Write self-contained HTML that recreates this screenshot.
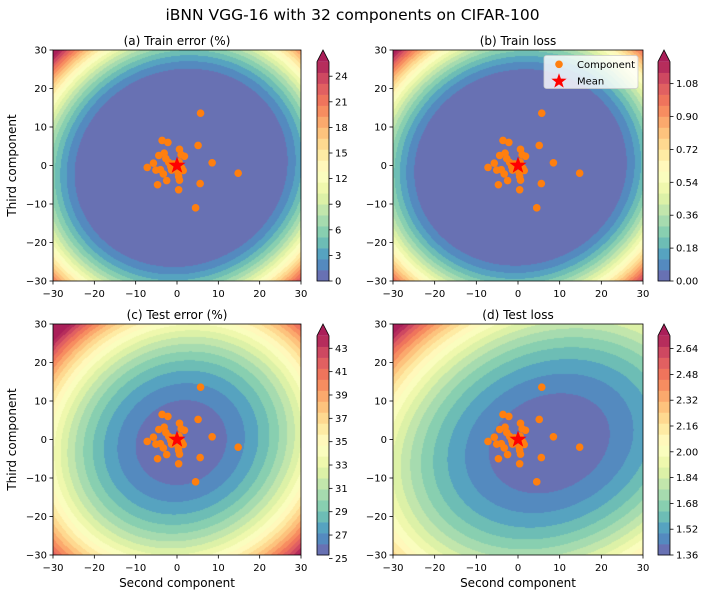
<!DOCTYPE html>
<html><head><meta charset="utf-8">
<style>
html,body{margin:0;padding:0;background:#fff;}
#wrap{position:relative;width:705px;height:596px;overflow:hidden;font-family:"DejaVu Sans","Liberation Sans",sans-serif;}
canvas{position:absolute;}
svg{position:absolute;left:0;top:0;}
</style></head>
<body>
<div id="wrap">
<canvas id="cA" style="left:53px;top:50px" width="248" height="231"></canvas>
<canvas id="cB" style="left:393px;top:50px" width="250" height="231"></canvas>
<canvas id="cC" style="left:53px;top:324px" width="248" height="231"></canvas>
<canvas id="cD" style="left:393px;top:324px" width="250" height="231"></canvas>
<svg id="svg" width="705" height="596"></svg>
</div>
<script>
// ---- data ----
const compX = [5.7,-3.6,-2.2,5.1,0.6,-3.1,-4.4,1.0,1.8,-2.7,-2.0,-5.7,8.5,-7.2,-5.1,-4.0,-3.3,-1.3,1.5,0.4,0.6,-2.5,14.8,5.6,-4.7,0.4,4.5,-0.8,0.5,-1.5,1.2,0.3];
const compY = [13.6,6.5,6.0,5.2,4.2,3.2,2.6,2.8,2.4,1.8,0.8,0.6,0.7,-0.5,-1.2,-1.1,-2.2,-1.2,-1.3,-2.9,-3.8,-3.9,-2.0,-4.7,-5.0,-6.3,-11.0,0.4,0.9,-0.3,-0.7,-2.0];
const meanX = [0];
const meanY = [0];
const axisTicks = [-30,-20,-10,0,10,20,30];
// colorbar ranges [vmin, vmax, nBands]
const rangeA = [0, 25.7, 20];
const rangeB = [0, 1.2, 20];
const rangeC = [25.29, 44.08, 20];
const rangeD = [1.36, 2.72, 20];
const cbTicksA = [0,3,6,9,12,15,18,21,24];
const cbTicksB = [0,0.18,0.36,0.54,0.72,0.90,1.08];
const cbTicksC = [25,27,29,31,33,35,37,39,41,43];
const cbTicksD = [1.36,1.52,1.68,1.84,2.00,2.16,2.32,2.48,2.64];
const cbLabelsB = ["0.00","0.18","0.36","0.54","0.72","0.90","1.08"];
const cbLabelsD = ["1.36","1.52","1.68","1.84","2.00","2.16","2.32","2.48","2.64"];
// landscape params: [cx, cy, thetaDeg, Sa, base, a1, u0, p1, a2, p2]
const fieldA = [1, -0.6, 45, 1.07, 0, 47, 0.7, 1.76, 0, 1];
const fieldB = [0.6, -0.5, 45, 1.05, 0, 2.2, 0.7, 1.76, 0, 1];
const fieldC = [1, -0.8, 45, 1.1, 25.29, 7.5, 0, 2, 1.5, 4];
const fieldD = [7.5, -1, 30, 1.25, 1.36, 0.4, 0, 2, 0.08, 4];

// ---- helpers ----
const NS = "http://www.w3.org/2000/svg";
const svg = document.getElementById('svg');
function mk(tag, attrs, parent){
  const e = document.createElementNS(NS, tag);
  for (const k in attrs) e.setAttribute(k, attrs[k]);
  (parent||svg).appendChild(e);
  return e;
}
const spec = [[94,79,162],[50,136,189],[102,194,165],[171,221,164],[230,245,152],[255,255,191],[254,224,139],[253,174,97],[244,109,67],[213,62,79],[158,1,66]];
const ALPHA = 0.88;
function cmap(t){
  t = Math.max(0, Math.min(1, t));
  const s = t*10, i = Math.min(9, Math.floor(s)), f = s - i;
  const c = [0,1,2].map(k => spec[i][k]*(1-f) + spec[i+1][k]*f);
  return c.map(v => Math.round(v*ALPHA + 255*(1-ALPHA)));
}
function rgb(c){ return 'rgb('+c[0]+','+c[1]+','+c[2]+')'; }
function fval(p, x, y){
  const dx = x - p[0], dy = y - p[1], th = p[2]*Math.PI/180;
  const a = dx*Math.cos(th) + dy*Math.sin(th), b = -dx*Math.sin(th) + dy*Math.cos(th);
  const u = Math.sqrt((a/p[3])*(a/p[3]) + b*b)/30;
  return p[4] + p[5]*Math.pow(Math.max(0, u - p[6]), p[7]) + p[8]*Math.pow(u, p[9]);
}

function panel(cfg){
  const {L, T, W, H, canvasId, field, range, cbTicks, cbLabels, title, name, cbX, showYLabel, showXLabel, legend} = cfg;
  const sx = x => L + (x + 30)/60*W;
  const sy = y => T + (30 - y)/60*H;
  const cv = document.getElementById(canvasId);
  cv.width = W; cv.height = H;
  const ctx = cv.getContext('2d');
  const img = ctx.createImageData(W, H);
  const [vmin, vmax, nb] = range;
  const step = (vmax - vmin)/nb;
  const bandCols = [];
  for (let i=0;i<nb;i++) bandCols.push(cmap((i+0.5)/nb));
  const overCol = cmap(1);
  for (let j=0;j<H;j++) for (let i=0;i<W;i++){
    const x = -30 + (i+0.5)/W*60, y = 30 - (j+0.5)/H*60;
    const v = fval(field, x, y);
    let k = Math.floor((v - vmin)/step);
    const c = k >= nb ? overCol : bandCols[Math.max(0,k)];
    const o = (j*W+i)*4;
    img.data[o]=c[0]; img.data[o+1]=c[1]; img.data[o+2]=c[2]; img.data[o+3]=255;
  }
  ctx.putImageData(img, 0, 0);

  const g = mk('g', {});
  
  
  const frame = mk('rect', {x:L, y:T, width:W, height:H, fill:'none', stroke:'#000', 'stroke-width':0.8}, g);
  
  
  axisTicks.forEach(t => {
    const X = sx(t);
    mk('line', {x1:X, x2:X, y1:T+H, y2:T+H+3.5, stroke:'#000', 'stroke-width':0.8}, g);
    const tx = mk('text', {x:X, y:T+H+16, 'font-size':10, 'text-anchor':'middle', fill:'#000'}, g);
    tx.textContent = t < 0 ? '\u2212' + Math.abs(t) : String(t);
    
    
    const Y = sy(t);
    mk('line', {x1:L-3.5, x2:L, y1:Y, y2:Y, stroke:'#000', 'stroke-width':0.8}, g);
    const ty = mk('text', {x:L-6, y:Y+3.5, 'font-size':10, 'text-anchor':'end', fill:'#000'}, g);
    ty.textContent = t < 0 ? '\u2212' + Math.abs(t) : String(t);
    
    
  });
  const tt = mk('text', {x:L+W/2, y:T-5, 'font-size':12, 'text-anchor':'middle', fill:'#000'}, g);
  tt.textContent = title;
  
  
  if (showYLabel){
    const yl = mk('text', {x:0, y:0, 'font-size':12, 'text-anchor':'middle', fill:'#000', transform:'translate(16,'+(T+H/2)+') rotate(-90)'}, g);
    yl.textContent = 'Third component';
    
    
  }
  if (showXLabel){
    const xl = mk('text', {x:L+W/2, y:T+H+32, 'font-size':12, 'text-anchor':'middle', fill:'#000'}, g);
    xl.textContent = 'Second component';
    
    
  }
  for (let i=0;i<compX.length;i++){
    const c = mk('circle', {cx:sx(compX[i]), cy:sy(compY[i]), r:3.8, fill:'#ff7f0e'}, g);
    
    
  }
  for (let i=0;i<meanX.length;i++){
    const s = mk('polygon', {points:starPts(sx(meanX[i]), sy(meanY[i]), 9), fill:'#ff0000'}, g);
    
    
  }
  const cbTop = T + 11.7, cbBot = T + H, cbW = 12;
  const cy = v => cbBot - (v - vmin)/(vmax - vmin)*(cbBot - cbTop);
  const cg = mk('g', {}, svg);
  
  
  for (let i=0;i<nb;i++){
    const y1 = cy(vmin + (i+1)*step), y0 = cy(vmin + i*step);
    const r = mk('rect', {x:cbX, y:y1, width:cbW, height:y0-y1+0.3, fill:rgb(bandCols[i])}, cg);
    
    
  }
  const tri = mk('polygon', {points:cbX+','+cbTop+' '+(cbX+cbW/2)+','+T+' '+(cbX+cbW)+','+cbTop, fill:rgb(overCol)}, cg);
  
  
  mk('polygon', {points:cbX+','+cbBot+' '+cbX+','+cbTop+' '+(cbX+cbW/2)+','+T+' '+(cbX+cbW)+','+cbTop+' '+(cbX+cbW)+','+cbBot, fill:'none', stroke:'#000', 'stroke-width':0.8}, cg);
  cbTicks.forEach((t, k) => {
    const Y = cy(t);
    mk('line', {x1:cbX+cbW, x2:cbX+cbW+3.5, y1:Y, y2:Y, stroke:'#000', 'stroke-width':0.8}, cg);
    const tl = mk('text', {x:cbX+cbW+6, y:Y+3.5, 'font-size':10, fill:'#000'}, cg);
    tl.textContent = cbLabels ? cbLabels[k] : String(t);
    
    
  });
  if (legend){
    const lg = mk('g', {}, svg);
    
    
    mk('rect', {x:544, y:55.5, width:94, height:33, rx:2.5, fill:'rgba(255,255,255,0.8)', stroke:'#cccccc', 'stroke-width':0.8}, lg);
    const d = mk('circle', {cx:559, cy:64.3, r:3.8, fill:'#ff7f0e'}, lg);
    
    
    const t1 = mk('text', {x:577, y:68, 'font-size':10, fill:'#000'}, lg);
    t1.textContent = 'Component';
    
    
    const st = mk('polygon', {points:starPts(559, 81.2, 8), fill:'#ff0000'}, lg);
    
    
    const t2 = mk('text', {x:577, y:84.5, 'font-size':10, fill:'#000'}, lg);
    t2.textContent = 'Mean';
    
    
  }
}
function starPts(cx, cy, R){
  const r = R*0.4, pts = [];
  for (let k=0;k<10;k++){
    const ang = -Math.PI/2 + k*Math.PI/5, rr = k%2 ? r : R;
    pts.push((cx + rr*Math.cos(ang)).toFixed(2) + ',' + (cy + rr*Math.sin(ang)).toFixed(2));
  }
  return pts.join(' ');
}

const sup = mk('text', {x:352.5, y:20, 'font-size':15.5, 'text-anchor':'middle', fill:'#000'});
sup.textContent = 'iBNN VGG-16 with 32 components on CIFAR-100';



panel({L:53, T:50, W:248, H:231, canvasId:'cA', field:fieldA, range:rangeA, cbTicks:cbTicksA, title:'(a) Train error (%)', name:'train-error', cbX:317, showYLabel:true, showXLabel:false});
panel({L:393, T:50, W:250, H:231, canvasId:'cB', field:fieldB, range:rangeB, cbTicks:cbTicksB, cbLabels:cbLabelsB, title:'(b) Train loss', name:'train-loss', cbX:658, showYLabel:false, showXLabel:false, legend:true});
panel({L:53, T:324, W:248, H:231, canvasId:'cC', field:fieldC, range:rangeC, cbTicks:cbTicksC, title:'(c) Test error (%)', name:'test-error', cbX:317, showYLabel:true, showXLabel:true});
panel({L:393, T:324, W:250, H:231, canvasId:'cD', field:fieldD, range:rangeD, cbTicks:cbTicksD, cbLabels:cbLabelsD, title:'(d) Test loss', name:'test-loss', cbX:658, showYLabel:false, showXLabel:true});
</script>
</body></html>
